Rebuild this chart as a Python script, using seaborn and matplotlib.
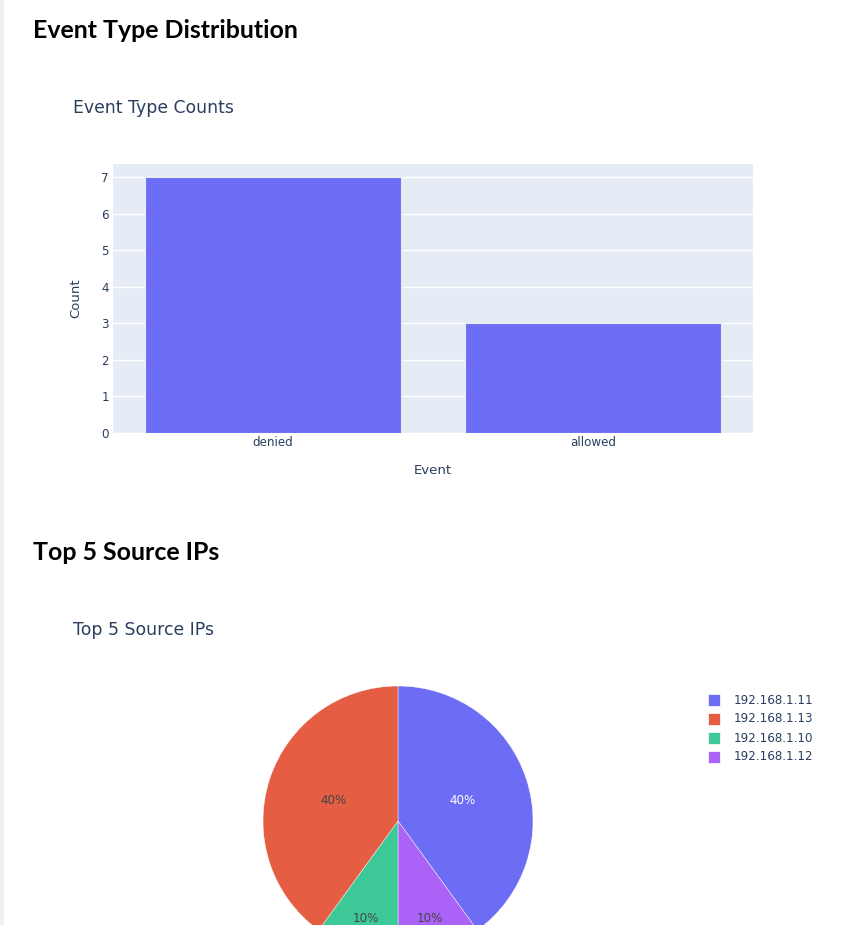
import numpy as np
import pandas as pd
import seaborn as sns
import matplotlib.pyplot as plt
from matplotlib.patches import Rectangle

# data
events = ['denied', 'allowed']
event_counts = [7, 3]

ip_labels = ['192.168.1.11', '192.168.1.13', '192.168.1.10', '192.168.1.12']
ip_counts = [4, 4, 1, 1]
ip_colors = ['#6c6cf5', '#e55d42', '#3dc997', '#ab63f7']
# clockwise order of the slices, starting at 12 o'clock
pie_order = [0, 3, 2, 1]

sns.set_theme(style='white')
plt.rcParams['font.family'] = ['DejaVu Sans']

W, H = 849, 925
fig = plt.figure(figsize=(W / 100, H / 100), dpi=100)
fig.patch.set_facecolor('white')

def fx(px):
    return px / W

def fy(py):
    return 1 - py / H

# page strip on the left
fig.patches.append(Rectangle((0, 0), fx(4), 1, transform=fig.transFigure,
                             facecolor='#f0f0f0', edgecolor='none'))

txt = '#2a3f5f'

# section headings
for y, s in [(30, 'Event Type Distribution'), (552, 'Top 5 Source IPs')]:
    fig.text(fx(33), fy(y), s, fontsize=17.9, fontweight='bold',
             family='Lato', color='black', va='center', ha='left')

# bar chart
fig.text(fx(73), fy(108), 'Event Type Counts', fontsize=12.4, color=txt, va='center')
ax = fig.add_axes([fx(113), fy(433), fx(640), (433 - 164) / H])
df = pd.DataFrame({'Event': events, 'Count': event_counts})
sns.barplot(data=df, x='Event', y='Count', color='#6c6cf5', saturation=1, width=0.8,
            edgecolor='#E5ECF6', linewidth=0.8, ax=ax, zorder=3)
ax.set_facecolor('#E5ECF6')
ax.set_xlim(-0.5, 1.5)
ax.set_ylim(0, 7.36)
ax.set_yticks(range(0, 8))
ax.grid(axis='y', color='white', linewidth=1, zorder=0)
ax.set_axisbelow(True)
for s in ax.spines.values():
    s.set_visible(False)
ax.tick_params(axis='both', length=0, labelsize=8.6, labelcolor=txt, pad=2)
ax.tick_params(axis='y', pad=3)
ax.set_xlabel('Event', fontsize=9.5, color=txt, labelpad=11)
ax.set_ylabel('Count', fontsize=9.5, color=txt, labelpad=14)

# pie chart
fig.text(fx(73), fy(630), 'Top 5 Source IPs', fontsize=12.4, color=txt, va='center')
r = 135
cx, cy = 398, 821
pax = fig.add_axes([fx(cx - r), fy(cy + r), fx(2 * r), 2 * r / H])
vals = [ip_counts[i] for i in pie_order]
cols = [ip_colors[i] for i in pie_order]
wedges, _ = pax.pie(vals, colors=cols, startangle=90, counterclock=False, radius=1,
                    wedgeprops=dict(edgecolor='white', linewidth=0.3))
pax.set_xlim(-1, 1)
pax.set_ylim(-1, 1)
pax.set_aspect('equal')
pax.axis('off')
total = sum(vals)
for w, v, i in zip(wedges, vals, pie_order):
    mid = np.deg2rad((w.theta1 + w.theta2) / 2)
    frac = v / total
    d = 0.5 if frac >= 0.2 else 0.76
    c = 'white' if i == 0 else '#444444'
    pax.text(d * np.cos(mid), d * np.sin(mid), f'{frac * 100:.0f}%', ha='center',
             va='center', fontsize=8.6, color=c, clip_on=False)

# legend drawn as figure text beside the pie
for k, (lab, col) in enumerate(zip(ip_labels, ip_colors)):
    y = 700 + k * 19
    fig.patches.append(Rectangle((fx(708), fy(y + 6)), fx(12), 12 / H,
                                 transform=fig.transFigure, facecolor=col,
                                 edgecolor='white', linewidth=0.5))
    fig.text(fx(734), fy(y), lab, fontsize=8.6, color=txt, va='center', ha='left')

fig.savefig('out.png', dpi=100)
